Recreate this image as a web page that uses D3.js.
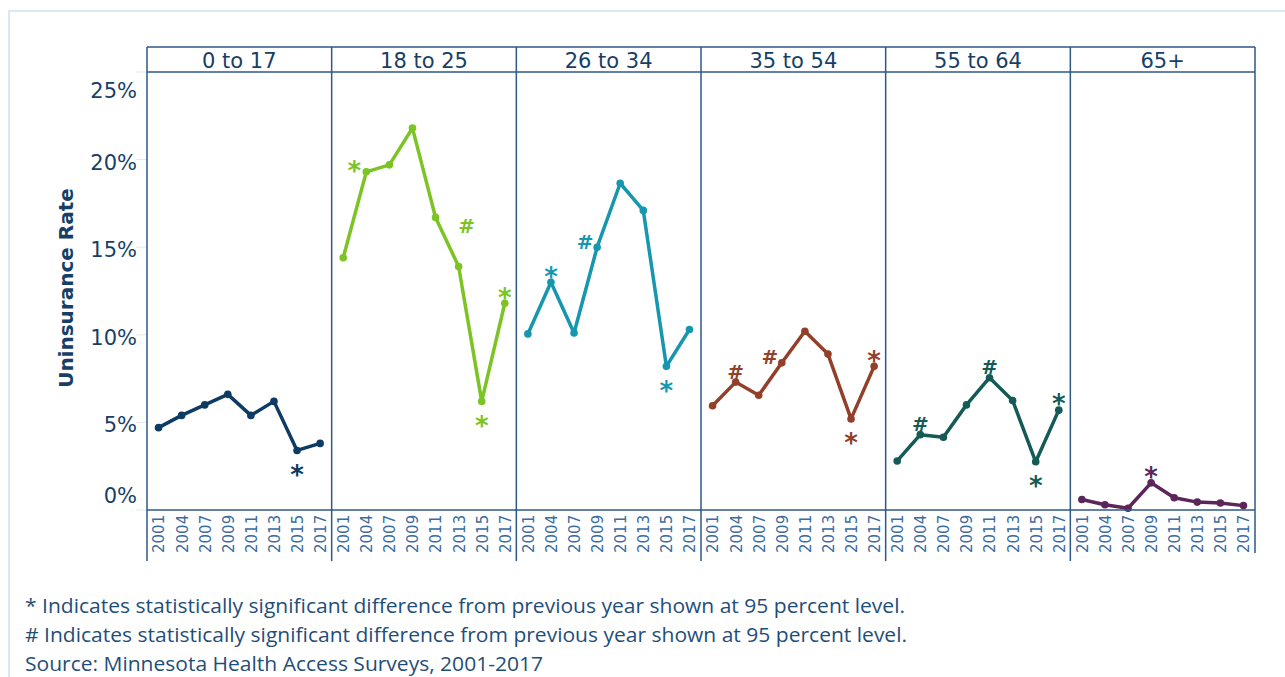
<!DOCTYPE html>
<html>
<head>
<meta charset="utf-8">
<script src="https://cdn.jsdelivr.net/npm/d3@7"></script>
<style>
  html, body { margin: 0; padding: 0; background: #ffffff; }
  svg { display: block; }
</style>
</head>
<body>
<svg id="chart" width="1285" height="677"></svg>
<script>
// ---------------- data ----------------
const years = ["2001", "2004", "2007", "2009", "2011", "2013", "2015", "2017"];
const ageGroups = ["0 to 17", "18 to 25", "26 to 34", "35 to 54", "55 to 64", "65+"];

const rate0to17  = [4.7, 5.4, 6.0, 6.6, 5.4, 6.2, 3.4, 3.8];
const rate18to25 = [14.4, 19.3, 19.7, 21.8, 16.7, 13.9, 6.2, 11.8];
const rate26to34 = [10.05, 13.0, 10.1, 15.0, 18.65, 17.1, 8.2, 10.3];
const rate35to54 = [5.95, 7.3, 6.55, 8.4, 10.2, 8.9, 5.2, 8.2];
const rate55to64 = [2.8, 4.3, 4.15, 6.0, 7.55, 6.25, 2.75, 5.7];
const rate65plus = [0.6, 0.3, 0.1, 1.55, 0.7, 0.45, 0.4, 0.25];

const seriesRates = [rate0to17, rate18to25, rate26to34, rate35to54, rate55to64, rate65plus];
const seriesColors = ["#0d3b63", "#7cc324", "#1796af", "#93402a", "#145a55", "#5b2759"];

const yTicks = [0, 5, 10, 15, 20, 25];
const yTickLabels = ["0%", "5%", "10%", "15%", "20%", "25%"];

// significance markers: [group index, year, symbol, placement]
const markGroup = [0, 1, 1, 1, 1, 2, 2, 2, 3, 3, 3, 3, 4, 4, 4, 4, 5];
const markYear  = ["2015", "2004", "2013", "2015", "2017", "2004", "2009", "2015", "2004", "2009", "2015", "2017", "2004", "2011", "2015", "2017", "2009"];
const markSym   = ["*", "*", "#", "*", "*", "*", "#", "*", "#", "#", "*", "*", "#", "#", "*", "*", "*"];
const markPlace = ["below", "left", "farAbove", "below", "above", "above", "left", "below", "above", "left", "below", "above", "above", "above", "below", "above", "above"];

const yTitle = "Uninsurance Rate";
const footnotes = [
  "* Indicates statistically significant difference from previous year shown at 95 percent level.",
  "# Indicates statistically significant difference from previous year shown at 95 percent level.",
  "Source: Minnesota Health Access Surveys, 2001-2017"
];

// ---------------- layout ----------------
const svg = d3.select("#chart");
const axisColor = "#2c5986";
const textColor = "#173f66";
const left = 147, right = 1255;
const headerTop = 47, plotTop = 72, plotBottom = 510, panelBottom = 561;

const panelScale = d3.scaleBand().domain(ageGroups).range([left, right]).paddingInner(0).paddingOuter(0);
const pw = panelScale.bandwidth();
const y = d3.scaleLinear().domain([0, 25]).range([plotBottom, plotTop]);

// outer light frame
svg.append("rect").attr("x", 9).attr("y", 11).attr("width", 1400).attr("height", 800)
  .attr("fill", "none").attr("stroke", "#d8e8f8").attr("stroke-width", 2);

// faint tick lines to the left of panels
svg.append("g").selectAll("line").data(yTicks).join("line")
  .attr("x1", 136).attr("x2", left)
  .attr("y1", d => y(d)).attr("y2", d => y(d))
  .attr("stroke", "#e6e6e6").attr("stroke-width", 1);

// y tick labels
svg.append("g").selectAll("text").data(yTicks).join("text")
  .attr("x", 137)
  .attr("y", d => Math.max(91, Math.min(496, y(d) + 3)))
  .attr("text-anchor", "end")
  .attr("dominant-baseline", "central")
  .attr("font-family", "DejaVu Sans, sans-serif")
  .attr("font-size", 21)
  .attr("fill", textColor)
  .text((d, i) => yTickLabels[i]);

// y title
svg.append("text")
  .attr("transform", `translate(66,${(190 + 386) / 2}) rotate(-90)`)
  .attr("text-anchor", "middle")
  .attr("dominant-baseline", "central")
  .attr("font-family", "DejaVu Sans, sans-serif")
  .attr("font-weight", "bold")
  .attr("font-size", 20)
  .attr("fill", textColor)
  .text(yTitle);

// panels
ageGroups.forEach((g, gi) => {
  const x0 = panelScale(g);
  const x = d3.scalePoint().domain(years).range([x0, x0 + pw]).padding(0.5);
  const pg = svg.append("g");
  const color = seriesColors[gi];
  const vals = seriesRates[gi];
  const pts = years.map((yr, i) => ({ yr, v: vals[i] }));

  // header label
  pg.append("text")
    .attr("x", x0 + pw / 2).attr("y", (headerTop + plotTop) / 2 + 1)
    .attr("text-anchor", "middle").attr("dominant-baseline", "central")
    .attr("font-family", "DejaVu Sans, sans-serif").attr("font-size", 21)
    .attr("fill", textColor).text(g);

  // x axis labels
  const xAxis = d3.axisBottom(x).tickSize(0).tickPadding(0);
  const ax = pg.append("g").attr("transform", `translate(0,${plotBottom})`).call(xAxis);
  ax.select(".domain").remove();
  ax.selectAll("text")
    .attr("transform", "rotate(-90)")
    .attr("x", -43).attr("y", 0).attr("dy", "0.36em")
    .attr("text-anchor", "start")
    .attr("font-family", "DejaVu Sans, sans-serif")
    .attr("font-size", 15)
    .attr("fill", "#3b6c9e");

  // line
  const line = d3.line().x(d => x(d.yr)).y(d => y(d.v));
  pg.append("path").datum(pts).attr("d", line)
    .attr("fill", "none").attr("stroke", color).attr("stroke-width", 3.5)
    .attr("stroke-linejoin", "round");
  pg.selectAll("circle").data(pts).join("circle")
    .attr("cx", d => x(d.yr)).attr("cy", d => y(d.v)).attr("r", 3.8)
    .attr("fill", color);

  // markers
  markGroup.forEach((mg, mi) => {
    if (mg !== gi) return;
    const yr = markYear[mi];
    const v = vals[years.indexOf(yr)];
    const px = x(yr), py = y(v);
    const place = markPlace[mi];
    let dx = 0, dy = 0;
    if (place === "below") dy = 19;
    else if (place === "above") dy = -11;
    else if (place === "left") { dx = -12; dy = -6; }
    else if (place === "farAbove") { dx = 8; dy = -41; }
    const sym = markSym[mi];
    const fs = sym === "*" ? 26 : 20;
    const centerOff = sym === "*" ? 0.55 : 0.37;
    pg.append("text")
      .attr("x", px + dx).attr("y", py + dy + centerOff * fs)
      .attr("text-anchor", "middle")
      .attr("font-family", "DejaVu Sans, sans-serif")
      .attr("font-weight", "bold")
      .attr("font-size", fs)
      .attr("fill", color).text(sym);
  });
});

// frame lines
const fg = svg.append("g").attr("stroke", axisColor).attr("stroke-width", 1.5).attr("fill", "none");
fg.append("line").attr("x1", left).attr("x2", right).attr("y1", headerTop).attr("y2", headerTop);
fg.append("line").attr("x1", left).attr("x2", right).attr("y1", plotTop).attr("y2", plotTop);
fg.append("line").attr("x1", left).attr("x2", right).attr("y1", plotBottom).attr("y2", plotBottom);
const edges = ageGroups.map(g => panelScale(g)).concat([right]);
fg.selectAll("line.v").data(edges).join("line").attr("class", "v")
  .attr("x1", d => d).attr("x2", d => d)
  .attr("y1", headerTop).attr("y2", (d, i) => i === edges.length - 1 ? plotBottom + 43 : panelBottom);

// footnotes
const footWidths = [880, 882, 518];
svg.append("g").selectAll("text").data(footnotes).join("text")
  .attr("x", 25).attr("y", (d, i) => 613 + i * 29)
  .attr("font-family", "Liberation Sans Narrow, Open Sans, sans-serif")
  .attr("font-size", 20)
  .attr("textLength", (d, i) => footWidths[i])
  .attr("lengthAdjust", "spacingAndGlyphs")
  .attr("fill", "#1f4e79")
  .text(d => d);
</script>
</body>
</html>
